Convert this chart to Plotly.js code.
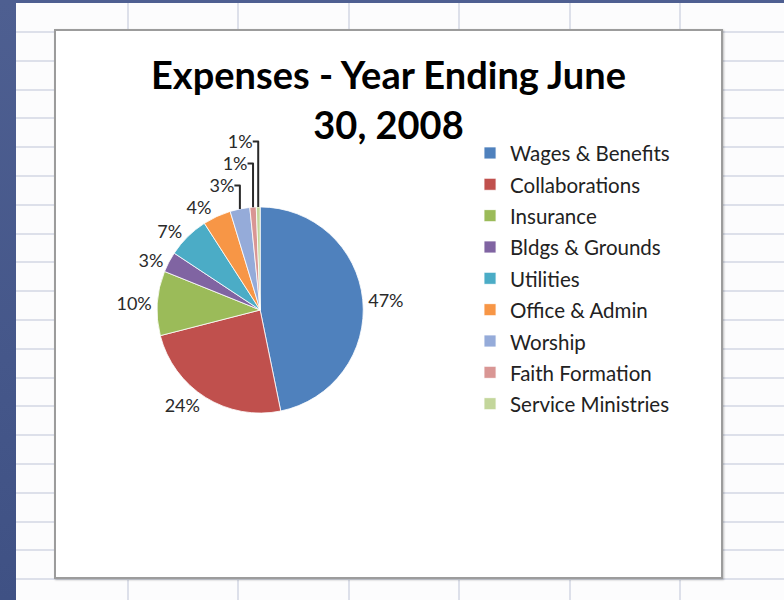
<!DOCTYPE html>
<html>
<head>
<meta charset="utf-8">
<script src="https://cdn.plot.ly/plotly-3.0.1.min.js"></script>
<style>
  html, body { margin: 0; padding: 0; }
  body {
    width: 784px; height: 600px; overflow: hidden; position: relative;
    background-color: #fcfcfd;
  }
  #sheet { position: absolute; left: 0; top: 0; width: 784px; height: 600px; background-color: #fcfcfd; }
  #leftbar { position: absolute; left: 0; top: 0; width: 16px; height: 600px;
    background: linear-gradient(to bottom, #4e5f91, #45578a 60%, #3f5184); }
  #topbar { position: absolute; left: 0; top: 0; width: 784px; height: 3px; background: #4e5f91; }
  #chart {
    position: absolute; left: 54px; top: 29px; width: 665px; height: 546px;
    border: 2px solid #9c9c9c; background: #ffffff;
    box-shadow: 1px 1px 2px rgba(0,0,0,0.25);
  }
</style>
</head>
<body>
<div id="sheet"></div>
<div id="leftbar"></div>
<div id="topbar"></div>
<div id="chart"></div>
<script>
// ---- Data ----
var categories = ["Wages & Benefits", "Collaborations", "Insurance", "Bldgs & Grounds",
                  "Utilities", "Office & Admin", "Worship", "Faith Formation", "Service Ministries"];
var expenseShares = [46.8, 24.2, 10.1, 3.2, 6.6, 4.4, 3.1, 1.0, 0.6];
var sliceColors = ["#4f81bd", "#c0504d", "#9bbb59", "#8064a2", "#4bacc6",
                   "#f79646", "#95abd9", "#d99694", "#c3d69b"];
var chartTitle = "Expenses - Year Ending June<br>30, 2008";

// Spreadsheet grid behind the chart
(function () {
  var sheet = document.getElementById('sheet');
  var html = '';
  for (var y = 32; y < 600; y += 28.8) {
    html += '<div style="position:absolute;left:16px;top:' + (y - 1).toFixed(1) + 'px;width:768px;height:2px;background:#dde0ea"></div>';
  }
  for (var x = 128; x < 784; x += 110.4) {
    html += '<div style="position:absolute;top:3px;left:' + (x - 1).toFixed(1) + 'px;width:2px;height:597px;background:#dde0ea"></div>';
  }
  sheet.innerHTML = html;
})();

var legendLabels = categories.map(function (c) {
  return '<span style="font-size:20.5px">' + c + '</span>';
});

var trace = {
  type: 'pie',
  labels: legendLabels,
  values: expenseShares,
  sort: false,
  direction: 'clockwise',
  rotation: 0,
  marker: { colors: sliceColors, line: { color: '#ffffff', width: 0.8 } },
  texttemplate: '%{percent:.0%}',
  textposition: 'outside',
  outsidetextfont: { family: 'Lato, sans-serif', size: 18, color: '#2a2a2a' },
  domain: { x: [0.152, 0.462], y: [0.300, 0.678] },
  hoverinfo: 'label+percent'
};

var layout = {
  width: 665, height: 546,
  margin: { l: 0, r: 0, t: 0, b: 0 },
  paper_bgcolor: '#ffffff',
  title: {
    text: '<b>' + chartTitle + '</b>',
    font: { family: 'Lato, sans-serif', size: 38, color: '#000000' },
    x: 0.5, xanchor: 'center',
    y: 0.893, yanchor: 'top', yref: 'container'
  },
  showlegend: true,
  legend: {
    x: 0.6226, xanchor: 'left',
    y: 0.8145, yanchor: 'top',
    font: { family: 'Lato, sans-serif', size: 21.8, color: '#222222' },
    bgcolor: 'rgba(0,0,0,0)',
    traceorder: 'normal'
  }
};

Plotly.newPlot('chart', [trace], layout, { displayModeBar: false, staticPlot: true });
</script>
</body>
</html>
